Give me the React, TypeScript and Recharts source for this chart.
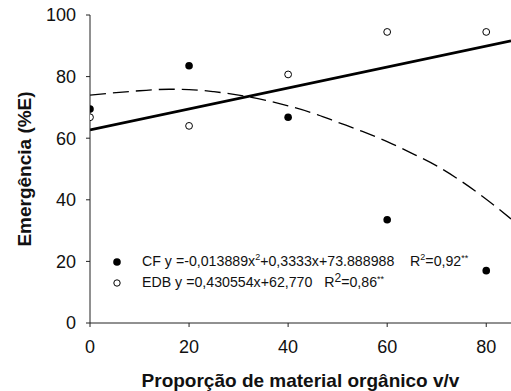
import React from "react";
import {
  ComposedChart,
  XAxis,
  YAxis,
  Line,
  Scatter,
  Customized,
} from "recharts";

// Observed data
const proportions = [0, 20, 40, 60, 80];
const cfValues = [69.5, 83.5, 66.8, 33.5, 17.0];
const edbValues = [66.8, 64.0, 80.7, 94.5, 94.5];

// Fitted curves as drawn in the figure
const cfFitX = [0, 10, 16, 20, 25, 31, 40, 46, 50, 55, 60, 65, 70, 75, 80, 85];
const cfFitY = [74.0, 75.4, 75.9, 75.8, 75.1, 73.7, 70.5, 67.6, 65.2, 62.2, 58.9, 55.1, 51.0, 46.0, 40.2, 33.8];
const edbFitX = [0, 85];
const edbFitY = [62.7, 91.6];

const xTicks = [0, 20, 40, 60, 80];
const yTicks = [0, 20, 40, 60, 80, 100];

const xTitle = "Proporção de material orgânico v/v";
const yTitle = "Emergência (%E)";

const cfData = proportions.map((x, i) => ({ x, y: cfValues[i] }));
const edbData = proportions.map((x, i) => ({ x, y: edbValues[i] }));
const cfFit = cfFitX.map((x, i) => ({ x, y: cfFitY[i] }));
const edbFit = edbFitX.map((x, i) => ({ x, y: edbFitY[i] }));

const FONT = "'Liberation Sans', Arial, sans-serif";
const AXIS_COLOR = "#222";

const FilledDot = (props: any) => (
  <circle cx={props.cx} cy={props.cy} r={3.8} fill="#000" stroke="none" />
);
const OpenDot = (props: any) => (
  <circle cx={props.cx} cy={props.cy} r={3.4} fill="#fff" stroke="#000" strokeWidth={1} />
);

const LegendBlock = () => (
  <g fontFamily={FONT} fill="#111">
    <circle cx={117} cy={262} r={3.8} fill="#000" />
    <circle cx={117} cy={283} r={3.2} fill="#fff" stroke="#000" strokeWidth={1} />
    <text x={142} y={266} fontSize={14.2} xmlSpace="preserve" style={{ whiteSpace: "pre" }}>
      CF y =-0,013889x
      <tspan fontSize={9} dy={-6}>2</tspan>
      <tspan dy={6}>{"+0,3333x+73.888988    R"}</tspan>
      <tspan fontSize={9} dy={-6}>2</tspan>
      <tspan dy={6}>=0,92</tspan>
      <tspan fontSize={9} dy={-5}>**</tspan>
    </text>
    <text x={142} y={287} fontSize={14.2} xmlSpace="preserve" style={{ whiteSpace: "pre" }}>
      {"EDB y =0,430554x+62,770   R"}
      <tspan fontSize={12} dy={-5}>2</tspan>
      <tspan dy={5}>=0,86</tspan>
      <tspan fontSize={9} dy={-5}>**</tspan>
    </text>
  </g>
);

const YTitle = (props: any) => {
  const vb = props.viewBox || { x: 0, y: 15, width: 90, height: 308 };
  const cx = vb.x + 31;
  const cy = vb.y + vb.height / 2;
  return (
    <text
      x={cx}
      y={cy}
      transform={`rotate(-90 ${cx} ${cy})`}
      textAnchor="middle"
      fontFamily={FONT}
      fontWeight="bold"
      fontSize={19}
      fill="#111"
    >
      {yTitle}
    </text>
  );
};

export default function App() {
  return (
    <div style={{ position: "absolute", left: 0, top: 0 }}>
      <ComposedChart
        width={511}
        height={391}
        margin={{ top: 15, right: 0, bottom: 0, left: 0 }}
        style={{ fontFamily: FONT }}
      >
        <XAxis
          dataKey="x"
          type="number"
          domain={[0, 85]}
          ticks={xTicks}
          allowDataOverflow
          height={68}
          tickSize={4}
          tickMargin={13}
          stroke={AXIS_COLOR}
          tick={{ fill: "#111", fontSize: 18, fontFamily: FONT }}
          tickLine={{ stroke: AXIS_COLOR }}
          label={{
            value: xTitle,
            position: "insideBottom",
            offset: 4,
            fill: "#111",
            fontSize: 19,
            fontWeight: "bold",
            fontFamily: FONT,
          }}
        />
        <YAxis
          type="number"
          domain={[0, 100]}
          ticks={yTicks}
          width={90}
          tickSize={4}
          tickMargin={10}
          stroke={AXIS_COLOR}
          tick={{ fill: "#111", fontSize: 18, fontFamily: FONT }}
          tickLine={{ stroke: AXIS_COLOR }}
          label={<YTitle />}
        />
        <Line
          data={edbFit}
          dataKey="y"
          type="linear"
          stroke="#000"
          strokeWidth={2.6}
          dot={false}
          activeDot={false}
          isAnimationActive={false}
        />
        <Line
          data={cfFit}
          dataKey="y"
          type="monotone"
          stroke="#000"
          strokeWidth={1.3}
          strokeDasharray="16 7"
          dot={false}
          activeDot={false}
          isAnimationActive={false}
        />
        <Scatter data={cfData} dataKey="y" shape={FilledDot} isAnimationActive={false} />
        <Scatter data={edbData} dataKey="y" shape={OpenDot} isAnimationActive={false} />
        <Customized component={LegendBlock} />
      </ComposedChart>
    </div>
  );
}
